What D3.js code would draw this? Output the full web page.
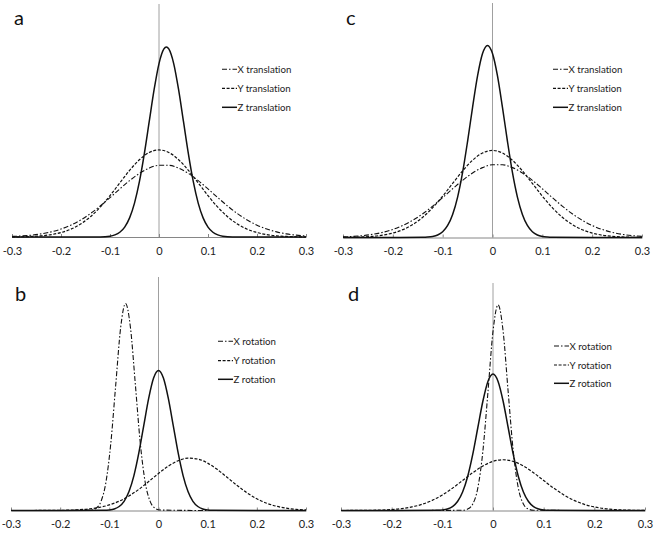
<!DOCTYPE html>
<html><head><meta charset="utf-8">
<script src="https://cdn.jsdelivr.net/npm/d3@7"></script>
<style>body{margin:0;background:#fff}svg{display:block}text{font-variant-ligatures:none;font-feature-settings:"liga" 0}</style>
</head><body>
<svg id="chart" width="656" height="534"></svg>
<script>
// ---------- data ----------
const xTicks = [-0.3, -0.2, -0.1, 0, 0.1, 0.2, 0.3];
const xTickLabels = ["-0.3", "-0.2", "-0.1", "0", "0.1", "0.2", "0.3"];
const gridX = [-0.30,-0.28,-0.26,-0.24,-0.22,-0.20,-0.18,-0.16,-0.14,-0.12,-0.10,-0.08,-0.06,-0.04,-0.02,0,0.02,0.04,0.06,0.08,0.10,0.12,0.14,0.16,0.18,0.20,0.22,0.24,0.26,0.28,0.30];

// panel a (translation)
const aX_x = gridX;
const aX_y = [0.035,0.065,0.113,0.190,0.307,0.478,0.712,1.021,1.406,1.860,2.365,2.888,3.389,3.821,4.140,4.308,4.308,4.140,3.821,3.389,2.888,2.365,1.860,1.406,1.021,0.712,0.478,0.307,0.190,0.113,0.065];
const aY_x = gridX;
const aY_y = [0.006,0.015,0.034,0.072,0.143,0.267,0.470,0.779,1.218,1.792,2.486,3.249,4.002,4.643,5.077,5.23,5.077,4.643,4.002,3.249,2.486,1.792,1.218,0.779,0.470,0.267,0.143,0.072,0.034,0.015,0.006];
const aZ_x = [-0.30,-0.20,-0.12,-0.10,-0.09,-0.08,-0.07,-0.06,-0.05,-0.04,-0.03,-0.02,-0.01,0,0.01,0.015,0.02,0.03,0.04,0.05,0.06,0.07,0.08,0.09,0.10,0.11,0.12,0.13,0.15,0.22,0.30];
const aZ_y = [0,0,0.007,0.051,0.127,0.287,0.598,1.150,2.036,3.322,4.997,6.926,8.848,10.42,11.30,11.42,11.30,10.42,8.848,6.926,4.997,3.322,2.036,1.150,0.598,0.287,0.127,0.051,0.007,0,0];

// panel c (translation)
const cX_x = gridX;
const cX_y = [0.035,0.066,0.115,0.193,0.311,0.485,0.722,1.035,1.426,1.886,2.398,2.928,3.436,3.874,4.198,4.368,4.368,4.198,3.874,3.436,2.928,2.398,1.886,1.426,1.035,0.722,0.485,0.311,0.193,0.115,0.066];
const cY_x = gridX;
const cY_y = [0.006,0.015,0.034,0.072,0.143,0.267,0.470,0.779,1.218,1.792,2.486,3.249,4.002,4.643,5.077,5.23,5.077,4.643,4.002,3.249,2.486,1.792,1.218,0.779,0.470,0.267,0.143,0.072,0.034,0.015,0.006];
const cZ_x = [-0.30,-0.22,-0.14,-0.13,-0.12,-0.11,-0.10,-0.09,-0.08,-0.07,-0.06,-0.05,-0.04,-0.03,-0.02,-0.01,0,0.01,0.02,0.03,0.04,0.05,0.06,0.07,0.08,0.09,0.10,0.11,0.12,0.20,0.30];
const cZ_y = [0,0,0.008,0.023,0.062,0.153,0.347,0.725,1.386,2.43,3.91,5.78,7.82,9.71,11.05,11.54,11.05,9.71,7.82,5.78,3.91,2.43,1.386,0.725,0.347,0.153,0.062,0.023,0.008,0,0];

// panel b (rotation)
const bX_x = [-0.30,-0.20,-0.137,-0.127,-0.117,-0.107,-0.097,-0.087,-0.077,-0.067,-0.057,-0.047,-0.037,-0.027,-0.017,-0.007,0.003,0.10,0.20,0.30];
const bX_y = [0,0,0.027,0.138,0.546,1.684,4.039,7.545,10.98,12.44,10.98,7.545,4.039,1.684,0.546,0.138,0.027,0,0,0];
const bY_x = gridX;
const bY_y = [0.000,0.000,0.001,0.002,0.004,0.010,0.023,0.049,0.100,0.189,0.336,0.559,0.872,1.273,1.739,2.226,2.667,2.992,3.144,3.092,2.848,2.457,1.984,1.500,1.062,0.704,0.437,0.254,0.138,0.071,0.034];
const bZ_x = [-0.30,-0.20,-0.11,-0.10,-0.09,-0.08,-0.07,-0.06,-0.05,-0.04,-0.03,-0.02,-0.01,0,0.01,0.02,0.03,0.04,0.05,0.06,0.07,0.08,0.09,0.10,0.11,0.20,0.30];
const bZ_y = [0,0,0.010,0.032,0.093,0.240,0.553,1.138,2.097,3.457,5.101,6.734,7.956,8.41,7.956,6.734,5.101,3.457,2.097,1.138,0.553,0.240,0.093,0.032,0.010,0,0];

// panel d (rotation)
const dX_x = [-0.30,-0.20,-0.06,-0.05,-0.04,-0.03,-0.02,-0.01,0,0.01,0.02,0.03,0.04,0.05,0.06,0.07,0.08,0.20,0.30];
const dX_y = [0,0,0.014,0.084,0.387,1.348,3.554,7.103,10.76,12.36,10.76,7.103,3.554,1.348,0.387,0.084,0.014,0,0];
const dY_x = gridX;
const dY_y = [0.001,0.002,0.005,0.012,0.027,0.057,0.114,0.213,0.372,0.609,0.934,1.341,1.803,2.269,2.674,2.951,3.05,2.951,2.674,2.269,1.803,1.341,0.934,0.609,0.372,0.213,0.114,0.057,0.027,0.012,0.005];
const dZ_x = [-0.30,-0.20,-0.11,-0.10,-0.09,-0.08,-0.07,-0.06,-0.05,-0.04,-0.03,-0.02,-0.01,0,0.01,0.02,0.03,0.04,0.05,0.06,0.07,0.08,0.09,0.10,0.11,0.20,0.30];
const dZ_y = [0,0,0.010,0.031,0.091,0.234,0.539,1.110,2.045,3.371,4.973,6.566,7.757,8.2,7.757,6.566,4.973,3.371,2.045,1.110,0.539,0.234,0.091,0.031,0.010,0,0];

const translationNames = ["X translation", "Y translation", "Z translation"];
const rotationNames = ["X rotation", "Y rotation", "Z rotation"];
const panelLetters = ["a", "c", "b", "d"];

// ---------- layout & style ----------
const styles = [
  {dash: "5,2,1.5,2", width: 1.1},
  {dash: "3,1.6", width: 1.2},
  {dash: null, width: 1.5}
];
const FONT = "Lato, 'Open Sans', sans-serif";

const panels = [
  {letter: panelLetters[0], x0: 12, x1: 306, base: 237, top: 4, lx: 14, ly: 25,
   names: translationNames, series: [[aX_x, aX_y], [aY_x, aY_y], [aZ_x, aZ_y]],
   legX: 222, legY: [69.3, 88.3, 107.3]},
  {letter: panelLetters[1], x0: 343, x1: 642, base: 237.5, top: 3, lx: 346, ly: 25,
   names: translationNames, series: [[cX_x, cX_y], [cY_x, cY_y], [cZ_x, cZ_y]],
   legX: 553, legY: [69.3, 88.3, 107.3]},
  {letter: panelLetters[2], x0: 11, x1: 306, base: 510.5, top: 277, lx: 15, ly: 301,
   names: rotationNames, series: [[bX_x, bX_y], [bY_x, bY_y], [bZ_x, bZ_y]],
   legX: 218, legY: [341.3, 360.7, 379.3]},
  {letter: panelLetters[3], x0: 341, x1: 645, base: 510.5, top: 283, lx: 348, ly: 301,
   names: rotationNames, series: [[dX_x, dX_y], [dY_x, dY_y], [dZ_x, dZ_y]],
   legX: 554, legY: [346, 365, 383.3]}
];

const svg = d3.select("#chart");

panels.forEach(p => {
  const x = d3.scaleLinear().domain([-0.3, 0.3]).range([p.x0, p.x1]);
  const y = d3.scaleLinear().domain([0, 14]).range([p.base, p.base - 233]);
  const g = svg.append("g");

  // vertical zero line
  g.append("line")
    .attr("x1", x(0)).attr("x2", x(0))
    .attr("y1", p.top).attr("y2", p.base)
    .attr("stroke", "#a0a0a0").attr("stroke-width", 1);

  // x axis
  const axis = d3.axisBottom(x).tickValues(xTicks)
    .tickFormat((d, i) => xTickLabels[i]).tickSize(0).tickPadding(10);
  const ax = g.append("g").attr("transform", `translate(0,${p.base})`).call(axis);
  ax.select(".domain").attr("stroke", "#868686").attr("stroke-width", 1);
  ax.selectAll(".tick text").attr("font-family", FONT).attr("font-size", 11).attr("fill", "#222");
  ax.selectAll(".tick").append("line")
    .attr("y1", 0).attr("y2", -3).attr("stroke", "#868686");

  // curves
  p.series.forEach((s, i) => {
    const pts = s[0].map((xv, k) => [xv, s[1][k]]);
    const line = d3.line().x(d => x(d[0])).y(d => y(d[1])).curve(d3.curveMonotoneX);
    g.append("path").datum(pts)
      .attr("d", line)
      .attr("fill", "none")
      .attr("stroke", "#111")
      .attr("stroke-width", styles[i].width)
      .attr("stroke-dasharray", styles[i].dash);
  });

  // legend
  p.names.forEach((n, i) => {
    const ly = p.legY[i];
    g.append("line")
      .attr("x1", p.legX).attr("x2", p.legX + 15)
      .attr("y1", ly).attr("y2", ly)
      .attr("stroke", "#111").attr("stroke-width", styles[i].width)
      .attr("stroke-dasharray", styles[i].dash);
    g.append("text")
      .attr("x", p.legX + 15.5).attr("y", ly + 3.5)
      .attr("font-family", FONT).attr("font-size", 9.7).attr("fill", "#222")
      .text(n);
  });

  // panel letter
  g.append("text").attr("x", p.lx).attr("y", p.ly)
    .attr("font-family", FONT).attr("font-size", 20).attr("fill", "#111")
    .text(p.letter);
});
</script>
</body></html>
